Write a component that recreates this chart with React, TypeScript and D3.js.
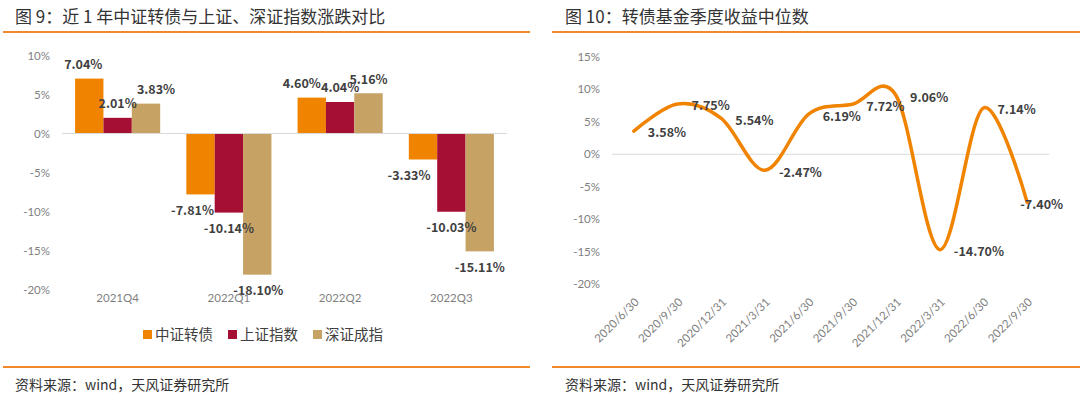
import React from "react";
import * as d3 from "d3";

const barCategories = ["2021Q4", "2022Q1", "2022Q2", "2022Q3"];
const barSeries = ["中证转债", "上证指数", "深证成指"];
const cbValues = [7.04, -7.81, 4.6, -3.33];
const shValues = [2.01, -10.14, 4.04, -10.03];
const szValues = [3.83, -18.1, 5.16, -15.11];
const barTicks = [10, 5, 0, -5, -10, -15, -20];
// horizontal nudges of the data labels (style, per series then category)
const labelNudges = [
  [-6, -8, -10, -14],
  [0, 0, 0, 0],
  [10, 1, 0, 0],
];

const lineDates = [
  "2020/6/30", "2020/9/30", "2020/12/31", "2021/3/31", "2021/6/30",
  "2021/9/30", "2021/12/31", "2022/3/31", "2022/6/30", "2022/9/30",
];
const lineValues = [3.58, 7.75, 5.54, -2.47, 6.19, 7.72, 9.06, -14.7, 7.14, -7.4];
const lineTicks = [15, 10, 5, 0, -5, -10, -15, -20];

const COLORS = ["#F08300", "#A50F33", "#C7A265"];
const RULE = "#F0892A";
const CJK = "'Noto Sans CJK SC', 'Microsoft YaHei', sans-serif";
const TICKF = "Lato, 'Liberation Sans', sans-serif";
const LABEL = "#404040";

const fmt = (v: number) => v.toFixed(2) + "%";

function BarChart() {
  const x0 = d3.scaleBand<string>().domain(barCategories).range([62, 507]).paddingInner(0.235).paddingOuter(0.1175);
  const x1 = d3.scaleBand<string>().domain(barSeries).range([0, x0.bandwidth()]);
  const y = d3.scaleLinear().domain([-20, 10]).range([289.5, 55.5]);
  const seriesVals = [cbValues, shValues, szValues];
  const legendX = d3.scalePoint<string>().domain(barSeries).range([143, 313]);
  return (
    <g>
      <text x={15} y={23} fontFamily={CJK} fontSize={17} fill="#333">图 9：近 1 年中证转债与上证、深证指数涨跌对比</text>
      <line x1={3} x2={530} y1={32} y2={32} stroke={RULE} strokeWidth={2} />
      {barTicks.map((t) => (
        <text key={t} x={50} y={y(t)} dy="0.35em" textAnchor="end" fontFamily={TICKF} fontSize={11.5} fill="#7f7f7f">{t}%</text>
      ))}
      {seriesVals.map((vals, si) =>
        vals.map((v, ci) => {
          const bx = (x0(barCategories[ci]) as number) + (x1(barSeries[si]) as number);
          const w = x1.bandwidth();
          const top = Math.min(y(v), y(0));
          const h = Math.abs(y(v) - y(0));
          return <rect key={`${si}-${ci}`} x={bx} y={top} width={w} height={h} fill={COLORS[si]} />;
        })
      )}
      <line x1={62} x2={507} y1={y(0)} y2={y(0)} stroke="#d9d9d9" strokeWidth={1} />
      {seriesVals.map((vals, si) =>
        vals.map((v, ci) => {
          const cx = (x0(barCategories[ci]) as number) + (x1(barSeries[si]) as number) + x1.bandwidth() / 2 + labelNudges[si][ci];
          const ly = v >= 0 ? y(v) - 14 : y(v) + 16;
          return (
            <text key={`l${si}-${ci}`} x={cx} y={ly} dy="0.35em" textAnchor="middle" fontFamily={CJK} fontWeight="bold" fontSize={12.5} fill={LABEL}>{fmt(v)}</text>
          );
        })
      )}
      {barCategories.map((c) => (
        <text key={c} x={(x0(c) as number) + x0.bandwidth() / 2} y={298} dy="0.35em" textAnchor="middle" fontFamily={TICKF} fontSize={11.5} fill="#7f7f7f">{c}</text>
      ))}
      {barSeries.map((s, i) => (
        <g key={s}>
          <rect x={legendX(s) as number} y={330} width={9} height={9} fill={COLORS[i]} />
          <text x={(legendX(s) as number) + 12} y={335} dy="0.35em" fontFamily={CJK} fontSize={14.5} fill={LABEL}>{s}</text>
        </g>
      ))}
      <line x1={3} x2={530} y1={367} y2={367} stroke={RULE} strokeWidth={2} />
      <text x={15} y={385} dy="0.35em" fontFamily={CJK} fontSize={14} fill="#333">资料来源：wind，天风证券研究所</text>
    </g>
  );
}

function LineChart() {
  const x = d3.scalePoint<string>().domain(lineDates).range([612, 1049]).padding(0.5);
  const y = d3.scaleLinear().domain([-20, 15]).range([284, 57]);
  const line = d3
    .line<number>()
    .x((_, i) => x(lineDates[i]) as number)
    .y((v) => y(v))
    .curve(d3.curveCardinal.tension(0));
  const maxX = 1064;
  return (
    <g>
      <text x={565} y={23} fontFamily={CJK} fontSize={17} fill="#333">图 10：转债基金季度收益中位数</text>
      <line x1={552} x2={1080} y1={32} y2={32} stroke={RULE} strokeWidth={2} />
      {lineTicks.map((t) => (
        <text key={t} x={600} y={y(t)} dy="0.35em" textAnchor="end" fontFamily={TICKF} fontSize={11.5} fill="#7f7f7f">{t}%</text>
      ))}
      <line x1={612} x2={1049} y1={y(0)} y2={y(0)} stroke="#d9d9d9" strokeWidth={1} />
      <path d={line(lineValues) || ""} fill="none" stroke="#F08300" strokeWidth={3.5} strokeLinecap="round" />
      {lineValues.map((v, i) => {
        const px = x(lineDates[i]) as number;
        const txt = fmt(v);
        const estW = txt.length * 7.3;
        const sx = px + 14 + estW > maxX ? maxX - estW : px + 14;
        return (
          <text key={i} x={sx} y={y(v) + 2} dy="0.35em" fontFamily={CJK} fontWeight="bold" fontSize={12.5} fill={LABEL}>{txt}</text>
        );
      })}
      {lineDates.map((d) => (
        <text key={d} transform={`translate(${(x(d) as number) + 3},${300}) rotate(-45)`} textAnchor="end" dy="0.35em" fontFamily={TICKF} fontSize={11.5} fill="#7f7f7f">{d}</text>
      ))}
      <line x1={552} x2={1080} y1={367} y2={367} stroke={RULE} strokeWidth={2} />
      <text x={565} y={385} dy="0.35em" fontFamily={CJK} fontSize={14} fill="#333">资料来源：wind，天风证券研究所</text>
    </g>
  );
}

export default function App() {
  return (
    <svg width={1080} height={397} style={{ position: "absolute", left: 0, top: 0, background: "#fff" }}>
      <rect width={1080} height={397} fill="#fff" />
      <BarChart />
      <LineChart />
    </svg>
  );
}
